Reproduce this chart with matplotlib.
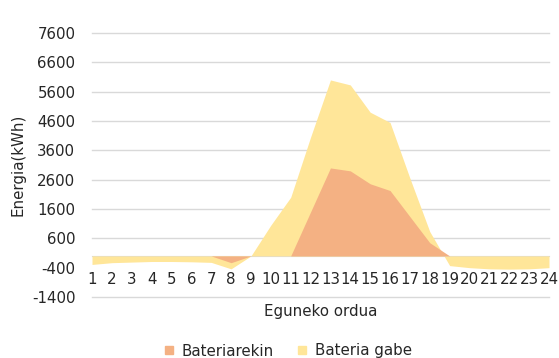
import matplotlib.pyplot as plt
from matplotlib.patches import Patch

hours = list(range(1, 25))
# Bateria gabe (without battery), kWh
gabe = [-290, -230, -210, -190, -190, -200, -220, -440, 0, 1050, 2000, 4050,
        6000, 5830, 4900, 4550, 2650, 830, -330, -400, -440, -450, -440, -400]
# Bateriarekin (with battery), kWh
bateria = [0, 0, 0, 0, 0, 0, 0, -230, 0, 0, 0, 1500,
           3000, 2900, 2460, 2230, 1340, 450, 0, 0, 0, 0, 0, 0]
yticks = [-1400, -400, 600, 1600, 2600, 3600, 4600, 5600, 6600, 7600]

TXT = '#262626'
FS = 10.8
plt.rcParams['font.family'] = 'DejaVu Sans'
plt.rcParams['axes.unicode_minus'] = False

fig = plt.figure(figsize=(5.59, 3.58), dpi=100)
ax = fig.add_axes([92 / 559, 1 - 297 / 358, 457 / 559, 264 / 358])

ax.fill_between(hours, 0, gabe, color='#FFE699', linewidth=0, zorder=2)
ax.fill_between(hours, 0, bateria, color='#F4B183', linewidth=0, zorder=3)

ax.set_xlim(1, 24)
ax.set_ylim(-1400, 7600)
ax.set_yticks(yticks)
ax.set_xticks(hours)
ax.set_xticklabels([str(h) for h in hours])

ax.yaxis.grid(True, color='#D9D9D9', linewidth=1)
ax.set_axisbelow(True)
for t, gl in zip(yticks, ax.get_ygridlines()):
    gl.set_clip_on(False)
    if t == -400:
        gl.set_visible(False)

for s in ['top', 'right', 'left']:
    ax.spines[s].set_visible(False)
ax.spines['bottom'].set_position(('data', 0))
ax.spines['bottom'].set_color('#D9D9D9')
ax.spines['bottom'].set_zorder(1)

ax.tick_params(axis='both', length=0, labelsize=FS, colors=TXT)
ax.tick_params(axis='x', pad=11.5)
ax.tick_params(axis='y', pad=12)

ax.set_xlabel('Eguneko ordua', fontsize=FS, color=TXT, labelpad=12)
fig.text(18 / 559, 1 - 165 / 358, 'Energia(kWh)', rotation=90, fontsize=FS,
         color=TXT, ha='center', va='center')

handles = [Patch(color='#F4B183', label='Bateriarekin'),
           Patch(color='#FFE699', label='Bateria gabe')]
fig.legend(handles=handles, loc='center', bbox_to_anchor=(0.5 + 9 / 559, 1 - 351 / 358),
           ncol=2, frameon=False, fontsize=FS, handlelength=0.5, handleheight=0.5,
           handletextpad=0.6, columnspacing=1.6, labelcolor=TXT)

fig.savefig('out.png', dpi=100)
